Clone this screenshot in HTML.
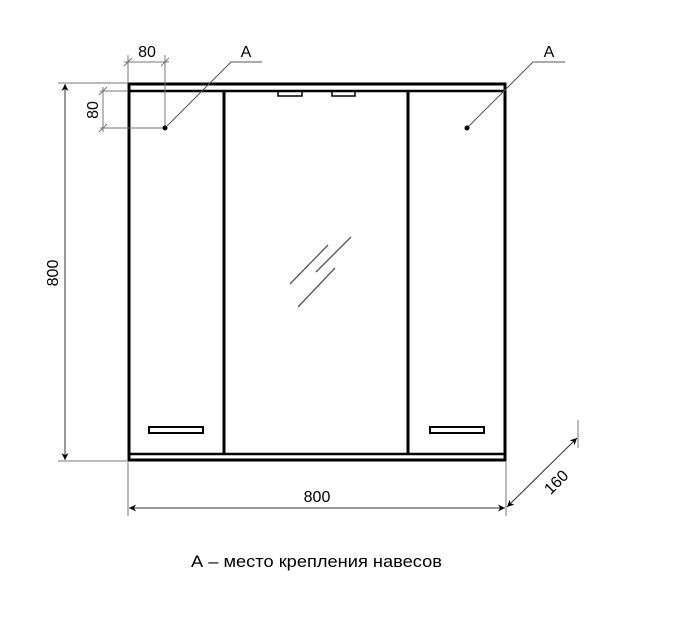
<!DOCTYPE html>
<html><head><meta charset="utf-8"><style>body{margin:0;background:#fff}svg{display:block}</style></head>
<body>
<svg width="673" height="622" viewBox="0 0 673 622" xmlns="http://www.w3.org/2000/svg" font-family="Liberation Sans, sans-serif">
<defs>
<marker id="ar" viewBox="0 0 10 10" refX="10" refY="5" markerWidth="10" markerHeight="7" orient="auto-start-reverse" markerUnits="userSpaceOnUse"><path d="M0,0 L10,5 L0,10 L3,5 Z" fill="#000"/></marker>
</defs>
<g stroke="#000" fill="none" stroke-width="3">
<rect x="129" y="84" width="376" height="376" stroke-width="3"/>
<line x1="129" y1="91" x2="505" y2="91" stroke-width="2.5"/>
<line x1="129" y1="454" x2="505" y2="454" stroke-width="2.5"/>
<line x1="224" y1="91" x2="224" y2="454"/>
<line x1="408" y1="91" x2="408" y2="454"/>
</g>
<g stroke="#000" fill="none" stroke-width="1.5">
<rect x="278" y="91" width="24" height="5"/>
<rect x="332" y="91" width="23" height="5"/>
<rect x="149" y="427" width="54" height="6" stroke-width="2"/>
<rect x="430" y="427" width="54" height="6" stroke-width="2"/>
</g>
<g stroke="#555" stroke-width="1.3">
<line x1="290" y1="284" x2="328" y2="245"/>
<line x1="316" y1="272" x2="351" y2="237"/>
<line x1="298" y1="307" x2="335" y2="268"/>
</g>
<g stroke="#777" stroke-width="1" fill="none">
<line x1="58" y1="83" x2="128" y2="83"/>
<line x1="58" y1="461" x2="128" y2="461"/>
<line x1="65" y1="84" x2="65" y2="460" stroke="#333" marker-start="url(#ar)" marker-end="url(#ar)"/>
<line x1="128" y1="55" x2="128" y2="83"/>
<line x1="165" y1="55" x2="165" y2="128"/>
<line x1="124" y1="62" x2="169" y2="62"/>
<line x1="100" y1="91" x2="128" y2="91"/>
<line x1="100" y1="128" x2="165" y2="128"/>
<line x1="103" y1="87" x2="103" y2="132"/>
<line x1="128" y1="462" x2="128" y2="516"/>
<line x1="506" y1="462" x2="506" y2="516"/>
<line x1="129" y1="508" x2="505" y2="508" stroke="#333" marker-start="url(#ar)" marker-end="url(#ar)"/>
<line x1="578" y1="420" x2="578" y2="448"/>
<line x1="507" y1="507" x2="577" y2="438" stroke="#333" marker-start="url(#ar)" marker-end="url(#ar)"/>
<polyline points="165,128 231,62 262,62" stroke="#555"/>
<polyline points="467,128 533,62 565,62" stroke="#555"/>
</g>
<g stroke="#777" stroke-width="1">
<line x1="124" y1="66" x2="132" y2="58"/><line x1="161" y1="66" x2="169" y2="58"/>
<line x1="99" y1="95" x2="107" y2="87"/><line x1="99" y1="132" x2="107" y2="124"/>
</g>
<circle cx="165" cy="128" r="2.5" fill="#000"/>
<circle cx="467" cy="128" r="2.5" fill="#000"/>
<g font-size="16" fill="#000" text-anchor="middle">
<text x="147" y="57">80</text>
<text x="246" y="57">A</text>
<text x="549" y="57">A</text>
<text x="317" y="502">800</text>
<text transform="translate(98,110) rotate(-90)">80</text>
<text transform="translate(58,273) rotate(-90)">800</text>
<text transform="translate(560,486) rotate(-45)">160</text>
</g>
<text x="191" y="567" font-size="17" textLength="251" lengthAdjust="spacingAndGlyphs">А – место крепления навесов</text>
</svg>
</body></html>
